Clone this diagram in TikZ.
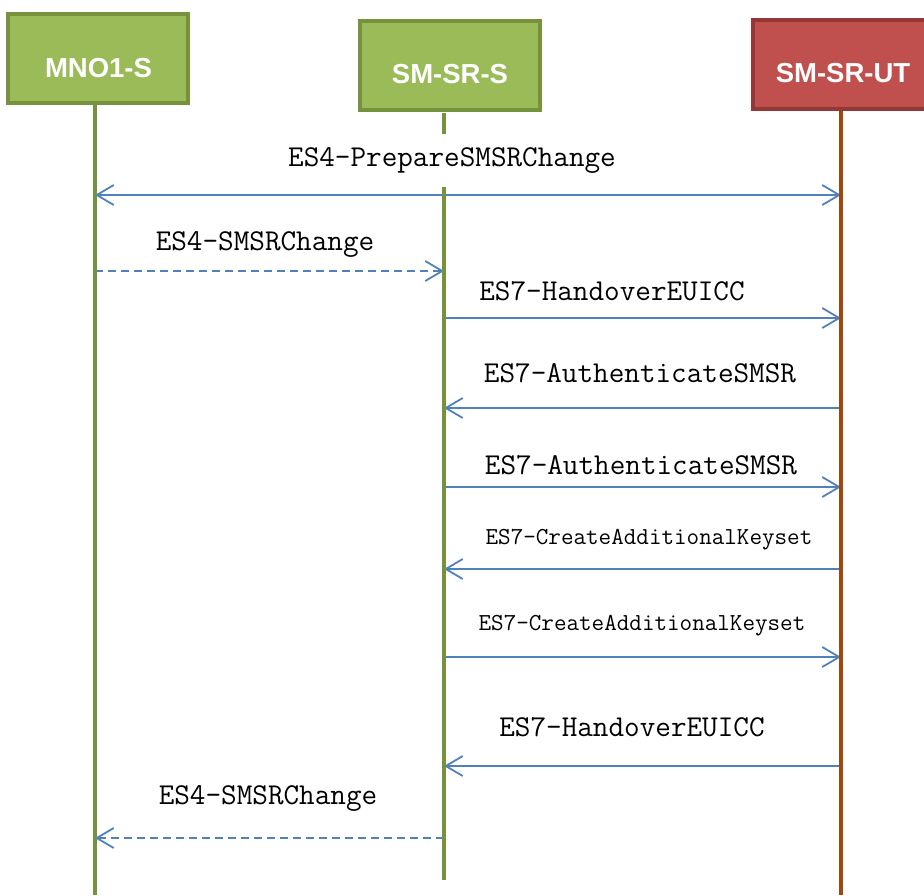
\documentclass[tikz,border=0pt]{standalone}
\usepackage{fontspec}
\setmainfont{Liberation Sans}
\usetikzlibrary{arrows.meta}
\definecolor{boxgreen}{RGB}{155,187,89}
\definecolor{edgegreen}{RGB}{118,146,60}
\definecolor{boxred}{RGB}{192,80,77}
\definecolor{edgered}{RGB}{149,55,53}
\definecolor{lifebrown}{RGB}{158,72,14}
\definecolor{msgblue}{RGB}{79,129,189}
\begin{document}
\begin{tikzpicture}[x=1pt,y=-1pt,
  actorbox/.style={draw,line width=4pt,minimum width=180pt,minimum height=89pt,inner sep=0pt},
  actorname/.style={text=white,font=\fontsize{27.5}{30}\selectfont\bfseries,inner sep=0pt},
  life/.style={line width=4.5pt},
  msg/.style={msgblue,line width=1.8pt,-{Straight Barb[length=17pt,width=20pt]}},
  reply/.style={msg,dash pattern=on 8pt off 5pt},
  msgtext/.style={font=\ttfamily\fontsize{30.3}{33}\selectfont,inner sep=0pt},
  msgsmall/.style={font=\ttfamily\fontsize{24.4}{27}\selectfont,inner sep=0pt}]
\path[use as bounding box] (0,0) rectangle (924,895);
% actors
\node[actorbox,fill=boxgreen,draw=edgegreen] (mno) at (98,58.5) {};
\node[actorname] (mnoName) at (98.5,68) {MNO1-S};
\node[actorbox,fill=boxgreen,draw=edgegreen] (srs) at (449.5,65.5) {};
\node[actorname] (srsName) at (450,74.5) {SM-SR-S};
\node[actorbox,fill=boxred,draw=edgered] (srut) at (843,64) {};
\node[actorname] (srutName) at (843,73) {SM-SR-UT};
% lifeline points
\coordinate (mnoTop) at (95,105);
\coordinate (mnoEnd) at (95,895);
\coordinate (srsTop) at (444,113);
\coordinate (srsGap) at (444,134);
\coordinate (srsRes) at (444,187);
\coordinate (srsEnd) at (444,880);
\coordinate (srutTop) at (841,111);
\coordinate (srutEnd) at (841,895);
% messages
\node[msgtext] (prep) at (452,160) {ES4-PrepareSMSRChange};
\draw[msg,{Straight Barb[length=17pt,width=20pt]}-{Straight Barb[length=17pt,width=20pt]}] (mnoTop |- 0,195) -- (srutTop |- 0,195);
\node[msgtext] (chgA) at (265,244) {ES4-SMSRChange};
\draw[reply] (mnoTop |- 0,271) -- (srsTop |- 0,271);
\node[msgtext] (handA) at (612,291) {ES7-HandoverEUICC};
\draw[msg] (srsTop |- 0,318) -- (srutTop |- 0,318);
\node[msgtext] (authA) at (640,373) {ES7-AuthenticateSMSR};
\draw[msg] (srutTop |- 0,408) -- (srsTop |- 0,408);
\node[msgtext] (authB) at (641,465) {ES7-AuthenticateSMSR};
\draw[msg] (srsTop |- 0,487) -- (srutTop |- 0,487);
\node[msgsmall] (keyA) at (649,540) {ES7-CreateAdditionalKeyset};
\draw[msg] (srutTop |- 0,569) -- (srsTop |- 0,569);
\node[msgsmall] (keyB) at (642,626) {ES7-CreateAdditionalKeyset};
\draw[msg] (srsTop |- 0,657) -- (srutTop |- 0,657);
\node[msgtext] (handB) at (632,727) {ES7-HandoverEUICC};
\draw[msg] (srutTop |- 0,766) -- (srsTop |- 0,766);
\node[msgtext] (chgB) at (268,798) {ES4-SMSRChange};
\draw[reply] (srsTop |- 0,838) -- (mnoTop |- 0,838);
% lifelines
\draw[life,edgegreen] (mnoTop) -- (mnoEnd);
\draw[life,edgegreen] (srsTop) -- (srsGap);
\draw[life,edgegreen] (srsRes) -- (srsEnd);
\draw[life,lifebrown] (srutTop) -- (srutEnd);
\end{tikzpicture}
\end{document}
